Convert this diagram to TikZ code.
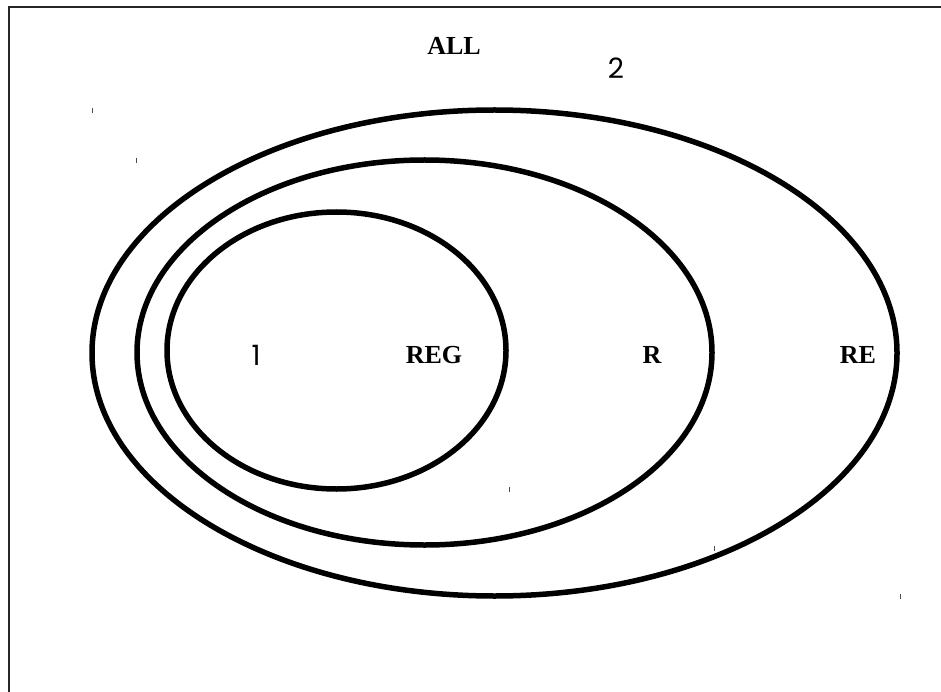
\documentclass[tikz,border=0pt]{standalone}
\usepackage{fontspec}
\setmainfont{Liberation Serif}
\newfontfamily\handfont{Poppins}
\begin{document}
\begin{tikzpicture}[x=1pt,y=-1pt,
  setring/.style={line width=5.5pt, draw=black},
  setlabel/.style={font=\fontsize{26}{28}\selectfont\bfseries, inner sep=0pt, anchor=center},
  handlabel/.style={font=\handfont\fontsize{28}{30}\selectfont, inner sep=0pt, anchor=center},
  tickmark/.style={line width=0.9pt, draw=black!70},
  framestyle/.style={line width=1.5pt, draw=black!85}]
\useasboundingbox (0,0) rectangle (941,692);
% frame (top and left edges)
\coordinate (ftr) at (941,7);
\coordinate (ftl) at (9,7);
\coordinate (fbl) at (9,692);
\draw[framestyle] (ftr) -- (ftl) -- (fbl);
% sets
\draw[setring] (494.5,353) ellipse [x radius=402.5pt, y radius=243pt];
\draw[setring] (424.5,352.5) ellipse [x radius=287.5pt, y radius=192.5pt];
\draw[setring] (336.5,350.5) ellipse [x radius=169.5pt, y radius=138.5pt];
% labels
\node[setlabel] (all) at (454,46) {ALL};
\node[handlabel] (two) at (616,68) {2};
\node[handlabel] (one) at (256,355) {1};
\node[setlabel] (reg) at (434,355) {REG};
\node[setlabel] (r) at (652,355) {R};
\node[setlabel] (re) at (858,355) {RE};
% tick marks
\foreach \tx/\ty [count=\i] in {92/111, 136/160.5, 509/489.5, 714/548, 900/596.5}{
  \coordinate (t\i a) at (\tx,\ty-2.5);
  \coordinate (t\i b) at (\tx,\ty+2.5);
  \draw[tickmark] (t\i a) -- (t\i b);
}
\end{tikzpicture}
\end{document}
